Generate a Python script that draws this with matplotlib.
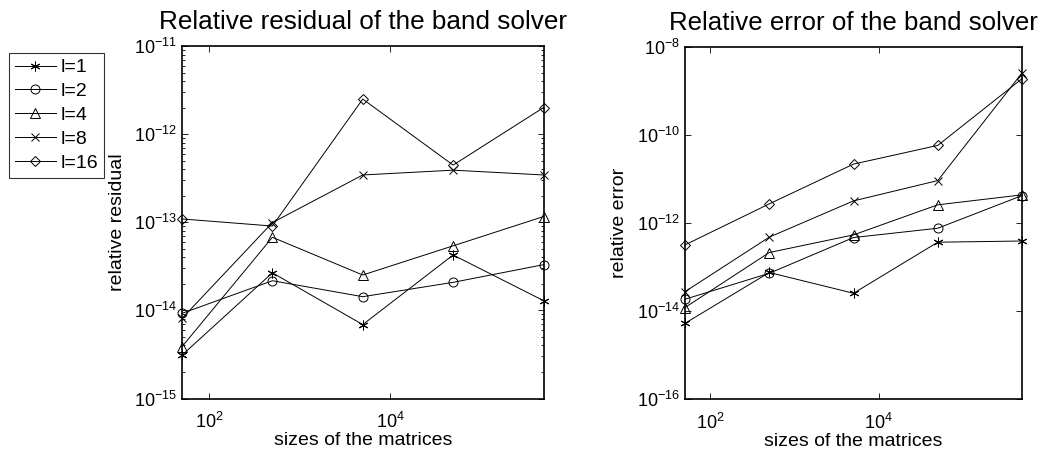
import matplotlib
matplotlib.use("Agg")
import matplotlib.pyplot as plt
from matplotlib.ticker import FixedLocator, NullLocator, NullFormatter

plt.rcParams["font.family"] = ["Liberation Sans", "DejaVu Sans"]
plt.rcParams["mathtext.fontset"] = "custom"
plt.rcParams["mathtext.rm"] = "Liberation Sans"

# matrix sizes (x axis)
sizes = [50, 500, 5000, 50000, 500000]
labels = ["l=1", "l=2", "l=4", "l=8", "l=16"]

# relative residual, one list per bandwidth l
res_l1 = [3.1e-15, 2.67e-14, 6.9e-15, 4.25e-14, 1.29e-14]
res_l2 = [9.25e-15, 2.17e-14, 1.43e-14, 2.08e-14, 3.3e-14]
res_l4 = [3.87e-15, 6.75e-14, 2.52e-14, 5.4e-14, 1.16e-13]
res_l8 = [8.1e-15, 9.9e-14, 3.44e-13, 3.9e-13, 3.44e-13]
res_l16 = [1.09e-13, 9.06e-14, 2.5e-12, 4.45e-13, 2.0e-12]

# relative error
err_l1 = [5.25e-15, 7.5e-14, 2.53e-14, 3.66e-13, 3.9e-13]
err_l2 = [1.85e-14, 7.2e-14, 4.67e-13, 7.6e-13, 4.2e-12]
err_l4 = [1.2e-14, 2.13e-13, 5.37e-13, 2.59e-12, 4.36e-12]
err_l8 = [2.75e-14, 4.77e-13, 3.18e-12, 9.2e-12, 2.57e-9]
err_l16 = [3.18e-13, 2.72e-12, 2.18e-11, 5.8e-11, 1.9e-9]

res_ticks = [1e-15, 1e-14, 1e-13, 1e-12, 1e-11]
err_ticks = [1e-16, 1e-14, 1e-12, 1e-10, 1e-8]

markers = [(6, 2, 0), "o", "^", "x", "D"]
msizes = [7, 6.5, 7, 5.5, 5.5]

W, H = 1049, 455
fig = plt.figure(figsize=(W / 100, H / 100), dpi=100)
ax1 = fig.add_axes([182 / W, 1 - 398.5 / H, (543.5 - 182) / W, (398.5 - 46) / H])
ax2 = fig.add_axes([685 / W, 1 - 399 / H, (1022 - 685) / W, (399 - 47) / H])


def draw(ax, series):
    handles = []
    for ys, m, ms, lab in zip(series, markers, msizes, labels):
        h, = ax.plot(sizes, ys, color="black", linewidth=0.7, marker=m,
                     markersize=ms, markerfacecolor="none",
                     markeredgecolor="black", markeredgewidth=0.7,
                     label=lab, clip_on=False)
        handles.append(h)
    ax.set_xscale("log")
    ax.set_yscale("log")
    ax.set_xlim(50, 500000)
    ax.xaxis.set_major_locator(FixedLocator([1e2, 1e4]))
    ax.xaxis.set_minor_locator(NullLocator())
    ax.tick_params(which="both", direction="in", top=True, right=True,
                   labelsize=13, width=0.6)
    ax.tick_params(which="major", length=4)
    ax.tick_params(which="minor", length=2)
    ax.tick_params(axis="x", pad=10)
    for s in ax.spines.values():
        s.set_linewidth(1.2)
    ax.set_xlabel("sizes of the matrices", fontsize=14, labelpad=0)
    return handles


handles = draw(ax1, [res_l1, res_l2, res_l4, res_l8, res_l16])
ax1.set_ylim(res_ticks[0], res_ticks[-1])
ax1.yaxis.set_major_locator(FixedLocator(res_ticks))
# minor ticks 2..9 within each decade
ax1.yaxis.set_minor_locator(FixedLocator([k * t for t in res_ticks[:-1] for k in range(2, 10)]))
ax1.yaxis.set_minor_formatter(NullFormatter())
ax1.set_ylabel("relative residual", fontsize=14)
ax1.yaxis.set_label_coords(-0.155, 0.5)
ax1.set_title("Relative residual of the band solver", fontsize=18.8, pad=12)

draw(ax2, [err_l1, err_l2, err_l4, err_l8, err_l16])
ax2.set_ylim(err_ticks[0], err_ticks[-1])
ax2.yaxis.set_major_locator(FixedLocator(err_ticks))
ax2.yaxis.set_minor_locator(NullLocator())
ax2.set_ylabel("relative error", fontsize=14)
ax2.yaxis.set_label_coords(-0.17, 0.5)
ax2.set_title("Relative error of the band solver", fontsize=18.6, pad=12)

leg = fig.legend(handles=handles, loc="upper left",
                 bbox_to_anchor=(9 / W, 1 - 53 / H), fontsize=14,
                 frameon=True, fancybox=False, handlelength=2.1,
                 handletextpad=0.25, labelspacing=0.32, borderpad=0.3,
                 borderaxespad=0)
leg.get_frame().set_edgecolor("black")
leg.get_frame().set_linewidth(0.8)

fig.savefig("out.png", dpi=100)
